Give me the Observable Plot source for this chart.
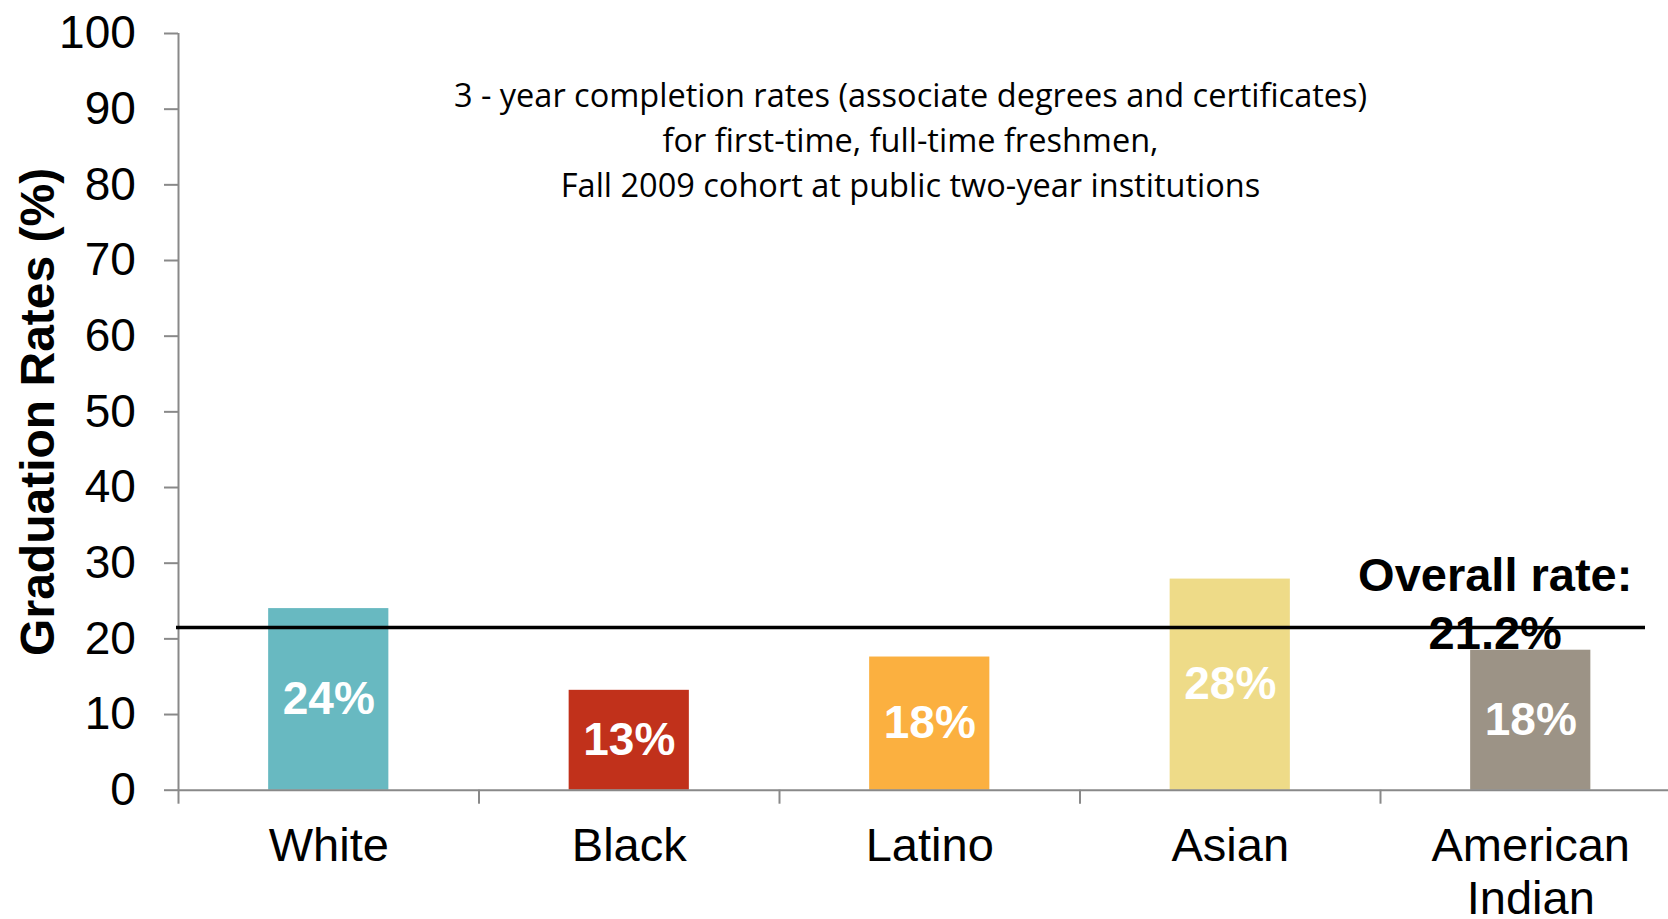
<!DOCTYPE html>
<html><head><meta charset="utf-8">
<script src="https://cdn.jsdelivr.net/npm/d3@7"></script>
<script src="https://cdn.jsdelivr.net/npm/@observablehq/plot@0.6"></script>
<style>html,body{margin:0;padding:0;background:#fff;overflow:hidden}</style>
</head><body><div id="chart"></div>
<script>
const categories = ["White", "Black", "Latino", "Asian", "American Indian"];
const categoryLabels = ["White", "Black", "Latino", "Asian", "American\nIndian"];
const rates = [24.0, 13.2, 17.6, 27.9, 18.5];
const rateLabels = ["24%", "13%", "18%", "28%", "18%"];
const barColors = ["#68b9c1", "#c1311b", "#fbb040", "#eedb88", "#9c9386"];
const overallRate = 21.5;
const overallLabel = "Overall rate:\n21.2%";
const yTicks = [0, 10, 20, 30, 40, 50, 60, 70, 80, 90, 100];
const titleText = "3 - year completion rates (associate degrees and certificates)\nfor first-time, full-time freshmen,\nFall 2009 cohort at public two-year institutions";
const yLabel = "Graduation Rates (%)";

const data = categories.map((c, i) => ({category: c, rate: rates[i], label: rateLabels[i], xlabel: categoryLabels[i]}));

const W = 1668, H = 919;
const left = 178, bandEnd = 1680.5;
const halfStep = (bandEnd - left) / categories.length / 2;
const font = "Liberation Sans, Arial, Helvetica, sans-serif";
const axisGray = "#898989";

const chart = Plot.plot({
  width: W,
  height: H,
  marginTop: 33,
  marginBottom: 129.3,
  marginLeft: left,
  marginRight: 0,
  style: {fontFamily: font, background: "#fff", overflow: "visible"},
  x: {domain: categories, range: [left, bandEnd], paddingInner: 0.6, paddingOuter: 0.3, round: false, axis: null},
  y: {domain: [0, 100], axis: null},
  color: {domain: categories, range: barColors},
  marks: [
    Plot.barY(data, {x: "category", y: "rate", fill: "category"}),
    // y axis
    Plot.axisY({ticks: yTicks, tickSize: 14, tickPadding: 28.7, fontSize: 46, stroke: axisGray, strokeWidth: 2, fill: "black", label: null, fontFamily: font}),
    Plot.ruleX([categories[0]], {x: d => d, dx: -halfStep, y1: 0, y2: 100, stroke: axisGray, strokeWidth: 2}),
    // x axis line and boundary ticks
    Plot.ruleY([0], {stroke: axisGray, strokeWidth: 2}),
    Plot.ruleX(categories, {x: d => d, dx: -halfStep, y1: 0, y2: -1.85, stroke: axisGray, strokeWidth: 2}),
    // category labels
    Plot.text(data, {x: "category", y: 0, text: "xlabel", dy: 33, lineAnchor: "top", lineHeight: 1.13, fontSize: 47, fill: "black", fontFamily: font}),
    // value labels
    Plot.text(data, {x: "category", y: d => d.rate / 2, text: "label", lineAnchor: "middle", fontSize: 46, fontWeight: "bold", fill: "white", fontFamily: font}),
    // overall rate line
    Plot.ruleY([overallRate], {stroke: "black", strokeWidth: 3.7, insetRight: 23, insetLeft: -2}),
    Plot.text([overallLabel], {x: () => categories[categories.length - 1], y: () => overallRate, text: d => d, dx: -35.5, dy: 21, lineAnchor: "bottom", lineHeight: 1.22, fontSize: 47, fontWeight: "bold", fill: "black", fontFamily: font}),
    // title inside plot
    Plot.text([titleText], {frameAnchor: "top", text: d => d, dx: -13, dy: 42, lineAnchor: "top", lineHeight: 1.385, fontSize: 32.5, fill: "#000", fontFamily: "Open Sans, sans-serif"}),
    // y label
    Plot.text([yLabel], {frameAnchor: "left", text: d => d, rotate: -90, dx: -125, textAnchor: "middle", lineAnchor: "bottom", fontSize: 48, fontWeight: "bold", fill: "black", fontFamily: font})
  ]
});
document.getElementById("chart").appendChild(chart);
</script>
</body></html>
